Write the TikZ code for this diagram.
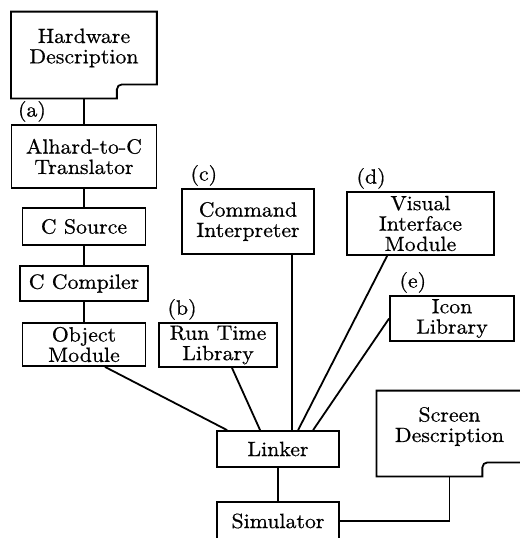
\documentclass[tikz,border=0pt]{standalone}
\usepackage{fontspec}
\setmainfont{Latin Modern Roman}[FakeStretch=1.06,FakeBold=0.6]
\usepackage{tikz}
\usetikzlibrary{positioning,calc}

% framed sheet with a notch cut out of its lower right corner
\newcommand{\docoutline}[1]{%
  \draw[wire] (#1.south east) -- (#1.north east) -- (#1.north west)
    -- ($(#1.south west)+(0,14)$) -- ($(#1.south east)+(-40,14)$)
    -- ($(#1.south east)+(-40,6)$)
    [rounded corners=2.5pt] |- ($(#1.south east)+(-30,0)$) [sharp corners] -- cycle;}

\begin{document}
\begin{tikzpicture}[x=0.5pt,y=-0.5pt,
  box/.style={draw,line width=0.9pt,inner sep=0pt,align=center},
  sheet/.style={inner sep=0pt,align=center},
  tag/.style={inner sep=0pt},
  wire/.style={line width=0.9pt},
  font=\fontsize{10.3}{10.2}\selectfont
]
  \useasboundingbox (0,0) rectangle (520,538);
  \clip (0,0) rectangle (520,538);

  \node[sheet,minimum width=72.5pt,minimum height=36pt] (hw) at (84,48) {Hardware\\Description};
  \docoutline{hw}
  \node[box,minimum width=72.5pt,minimum height=31.5pt] (alhard) at (84,156.5) {Alhard-to-C\\Translator};
  \node[box,minimum width=61.5pt,minimum height=18.5pt] (csrc) at (84,226.5) {C Source};
  \node[box,minimum width=64pt,minimum height=17.5pt] (ccomp) at (84,283.5) {C Compiler};
  \node[box,minimum width=61.5pt,minimum height=21.5pt] (objmod) at (84,344.5) {Object\\Module};
  \node[box,minimum width=59pt,minimum height=22pt] (rtlib) at (218,345) {Run Time\\Library};
  \node[box,minimum width=66pt,minimum height=32.5pt] (cmdint) at (248,221.5) {Command\\Interpreter};
  \node[box,minimum width=73.5pt,minimum height=31.5pt] (vim) at (420.5,223.5) {Visual\\Interface\\Module};
  \node[box,minimum width=62pt,minimum height=22.5pt] (icon) at (452,318.5) {Icon\\Library};
  \node[box,minimum width=61pt,minimum height=18pt] (linker) at (278,449) {Linker};
  \node[box,minimum width=61pt,minimum height=19pt] (sim) at (278,521) {Simulator};
  \node[sheet,minimum width=72.5pt,minimum height=35.5pt] (screen) at (449.5,426.5) {Screen\\Description};
  \docoutline{screen}

  \node[tag,above right=1pt and 3.5pt of alhard.north west] (tag-a) {(a)};
  \node[tag,above right=1pt and 4.5pt of rtlib.north west] (tag-b) {(b)};
  \node[tag,above right=1pt and 4.5pt of cmdint.north west] (tag-c) {(c)};
  \node[tag,above right=1pt and 5pt of vim.north west] (tag-d) {(d)};
  \node[tag,above right=1pt and 5pt of icon.north west] (tag-e) {(e)};

  \coordinate (hwfoot) at ($(hw.south)+(0,14)$);
  \coordinate (scrfoot) at ($(screen.south)+(0,14)$);
  \draw[wire] (hwfoot) -- (alhard);
  \draw[wire] (alhard) -- (csrc);
  \draw[wire] (csrc) -- (ccomp);
  \draw[wire] (ccomp) -- (objmod);
  \draw[wire] ($(objmod.south)+(21,0)$) -- ($(linker.north west)+(11,0)$);
  \draw[wire] ($(rtlib.south)+(14,0)$) -- ($(linker.north west)+(44,0)$);
  \draw[wire] ($(cmdint.south east)+(-23,0)$) coordinate (cmdfoot) -- (cmdfoot |- linker.north);
  \draw[wire] ($(vim.south west)+(41,0)$) -- ($(linker.north west)+(82,0)$);
  \draw[wire] (icon.west) -- ($(linker.north west)+(97,0)$);
  \draw[wire] (linker) -- (sim);
  \draw[wire] (scrfoot) |- (sim.east);
\end{tikzpicture}
\end{document}
